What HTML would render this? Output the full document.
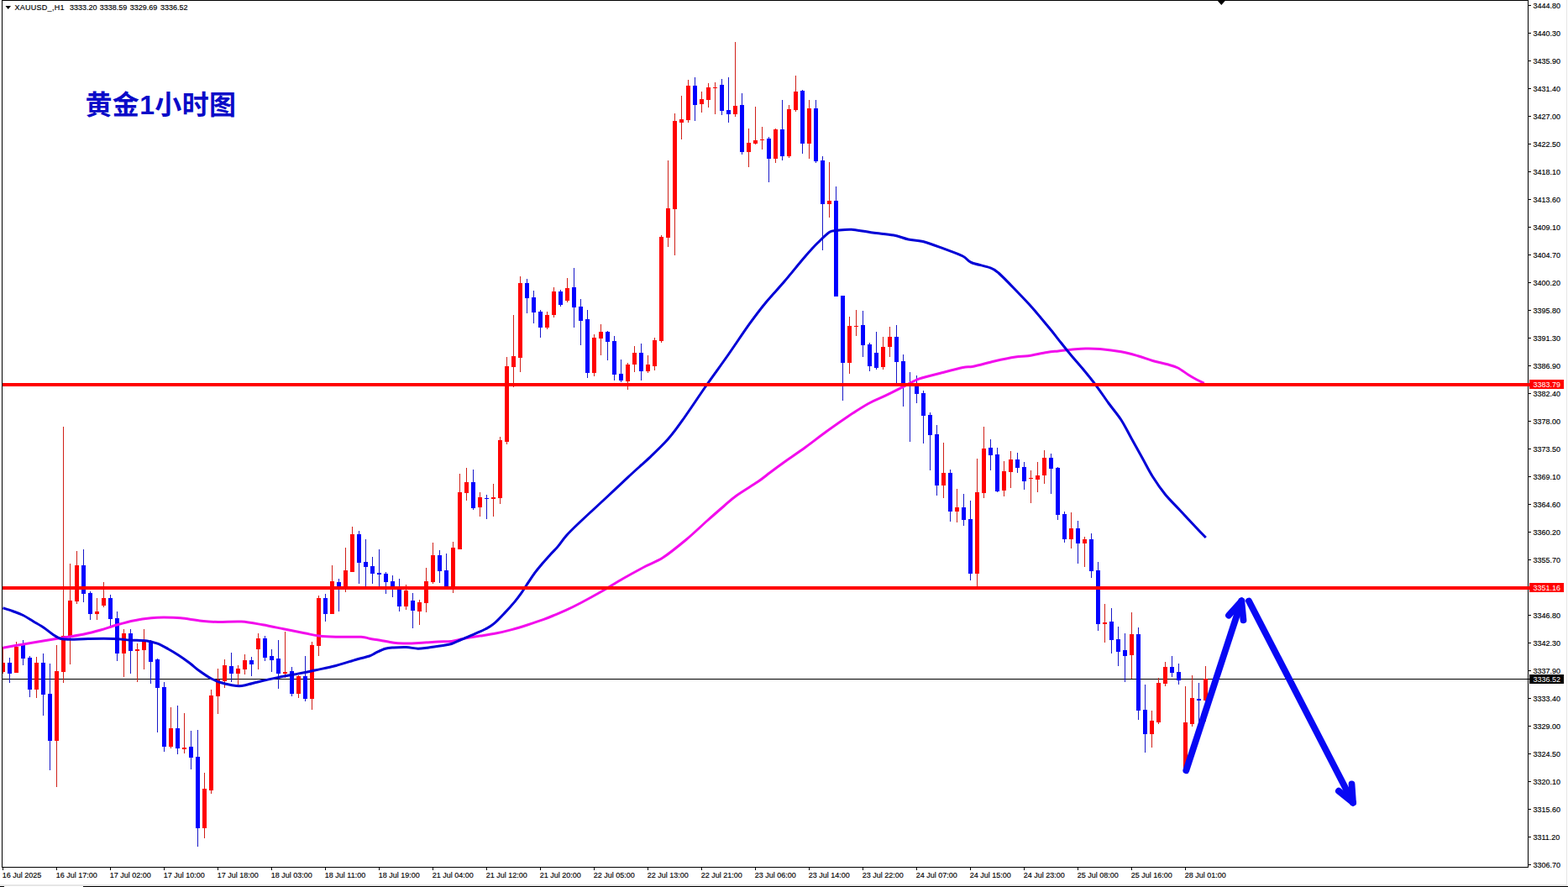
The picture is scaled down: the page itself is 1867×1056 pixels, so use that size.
<!DOCTYPE html>
<html><head><meta charset="utf-8"><title>XAUUSD H1</title>
<style>html,body{margin:0;padding:0;background:#fff;}body{width:1867px;height:1056px;overflow:hidden;position:relative;font-family:"Liberation Sans",sans-serif;}</style>
</head><body>
<svg width="1867" height="1056" viewBox="0 0 1867 1056" style="position:absolute;left:0;top:0">
<defs><clipPath id="cp"><rect x="3" y="1" width="1816" height="1031"/></clipPath></defs>
<g shape-rendering="crispEdges" fill="#000">
<rect x="2" y="0" width="1818" height="1"/>
<rect x="2" y="0" width="1" height="1033"/>
<rect x="1819" y="0" width="1" height="1033"/>
<rect x="2" y="1032" width="1818" height="1"/>
<rect x="1820" y="6" width="3" height="1"/>
<rect x="1820" y="39" width="3" height="1"/>
<rect x="1820" y="72" width="3" height="1"/>
<rect x="1820" y="105" width="3" height="1"/>
<rect x="1820" y="138" width="3" height="1"/>
<rect x="1820" y="171" width="3" height="1"/>
<rect x="1820" y="204" width="3" height="1"/>
<rect x="1820" y="237" width="3" height="1"/>
<rect x="1820" y="270" width="3" height="1"/>
<rect x="1820" y="303" width="3" height="1"/>
<rect x="1820" y="336" width="3" height="1"/>
<rect x="1820" y="369" width="3" height="1"/>
<rect x="1820" y="402" width="3" height="1"/>
<rect x="1820" y="435" width="3" height="1"/>
<rect x="1820" y="468" width="3" height="1"/>
<rect x="1820" y="501" width="3" height="1"/>
<rect x="1820" y="534" width="3" height="1"/>
<rect x="1820" y="567" width="3" height="1"/>
<rect x="1820" y="600" width="3" height="1"/>
<rect x="1820" y="633" width="3" height="1"/>
<rect x="1820" y="666" width="3" height="1"/>
<rect x="1820" y="699" width="3" height="1"/>
<rect x="1820" y="732" width="3" height="1"/>
<rect x="1820" y="765" width="3" height="1"/>
<rect x="1820" y="798" width="3" height="1"/>
<rect x="1820" y="831" width="3" height="1"/>
<rect x="1820" y="864" width="3" height="1"/>
<rect x="1820" y="897" width="3" height="1"/>
<rect x="1820" y="930" width="3" height="1"/>
<rect x="1820" y="963" width="3" height="1"/>
<rect x="1820" y="996" width="3" height="1"/>
<rect x="1820" y="1029" width="3" height="1"/>
<rect x="3" y="1033" width="1" height="3"/>
<rect x="67" y="1033" width="1" height="3"/>
<rect x="131" y="1033" width="1" height="3"/>
<rect x="195" y="1033" width="1" height="3"/>
<rect x="259" y="1033" width="1" height="3"/>
<rect x="323" y="1033" width="1" height="3"/>
<rect x="387" y="1033" width="1" height="3"/>
<rect x="451" y="1033" width="1" height="3"/>
<rect x="515" y="1033" width="1" height="3"/>
<rect x="579" y="1033" width="1" height="3"/>
<rect x="643" y="1033" width="1" height="3"/>
<rect x="707" y="1033" width="1" height="3"/>
<rect x="771" y="1033" width="1" height="3"/>
<rect x="835" y="1033" width="1" height="3"/>
<rect x="899" y="1033" width="1" height="3"/>
<rect x="963" y="1033" width="1" height="3"/>
<rect x="1027" y="1033" width="1" height="3"/>
<rect x="1091" y="1033" width="1" height="3"/>
<rect x="1155" y="1033" width="1" height="3"/>
<rect x="1219" y="1033" width="1" height="3"/>
<rect x="1283" y="1033" width="1" height="3"/>
<rect x="1347" y="1033" width="1" height="3"/>
<rect x="1411" y="1033" width="1" height="3"/>
<rect x="0" y="1055" width="5" height="1"/>
<rect x="99" y="1055" width="1768" height="1"/>
</g>
<g shape-rendering="crispEdges" fill="#e6e6e6"><rect x="1865" y="0" width="1" height="1054"/><rect x="0" y="1053" width="1866" height="2"/></g>
<path d="M1449 0 L1459.6 0 L1454.3 6 Z" fill="#000"/>
<rect x="3" y="808" width="1818" height="1" fill="#000" shape-rendering="crispEdges"/>
<g shape-rendering="crispEdges" clip-path="url(#cp)">
<rect x="3" y="770" width="1" height="32" fill="#d02018"/>
<rect x="1" y="789" width="5" height="11" fill="#ff0000"/>
<rect x="11" y="783" width="1" height="30" fill="#1818c8"/>
<rect x="9" y="789" width="5" height="13" fill="#0000ff"/>
<rect x="19" y="764" width="1" height="37" fill="#d02018"/>
<rect x="17" y="770" width="5" height="31" fill="#ff0000"/>
<rect x="27" y="762" width="1" height="30" fill="#1818c8"/>
<rect x="25" y="768" width="5" height="16" fill="#0000ff"/>
<rect x="35" y="781" width="1" height="49" fill="#1818c8"/>
<rect x="33" y="783" width="5" height="38" fill="#0000ff"/>
<rect x="43" y="782" width="1" height="49" fill="#d02018"/>
<rect x="41" y="789" width="5" height="32" fill="#ff0000"/>
<rect x="51" y="778" width="1" height="74" fill="#1818c8"/>
<rect x="49" y="789" width="5" height="38" fill="#0000ff"/>
<rect x="59" y="790" width="1" height="127" fill="#1818c8"/>
<rect x="57" y="826" width="5" height="56" fill="#0000ff"/>
<rect x="67" y="768" width="1" height="169" fill="#d02018"/>
<rect x="65" y="799" width="5" height="83" fill="#ff0000"/>
<rect x="75" y="508" width="1" height="305" fill="#d02018"/>
<rect x="73" y="757" width="5" height="43" fill="#ff0000"/>
<rect x="83" y="671" width="1" height="120" fill="#d02018"/>
<rect x="81" y="715" width="5" height="43" fill="#ff0000"/>
<rect x="91" y="656" width="1" height="63" fill="#d02018"/>
<rect x="89" y="673" width="5" height="43" fill="#ff0000"/>
<rect x="99" y="654" width="1" height="63" fill="#1818c8"/>
<rect x="97" y="673" width="5" height="34" fill="#0000ff"/>
<rect x="107" y="704" width="1" height="34" fill="#1818c8"/>
<rect x="105" y="706" width="5" height="25" fill="#0000ff"/>
<rect x="115" y="712" width="1" height="26" fill="#d02018"/>
<rect x="113" y="728" width="5" height="3" fill="#ff0000"/>
<rect x="123" y="693" width="1" height="30" fill="#d02018"/>
<rect x="121" y="712" width="5" height="9" fill="#ff0000"/>
<rect x="131" y="708" width="1" height="37" fill="#1818c8"/>
<rect x="129" y="712" width="5" height="25" fill="#0000ff"/>
<rect x="139" y="728" width="1" height="59" fill="#1818c8"/>
<rect x="137" y="736" width="5" height="42" fill="#0000ff"/>
<rect x="147" y="749" width="1" height="57" fill="#d02018"/>
<rect x="145" y="754" width="5" height="24" fill="#ff0000"/>
<rect x="155" y="749" width="1" height="53" fill="#1818c8"/>
<rect x="153" y="754" width="5" height="21" fill="#0000ff"/>
<rect x="163" y="766" width="1" height="46" fill="#d02018"/>
<rect x="161" y="773" width="5" height="2" fill="#ff0000"/>
<rect x="171" y="749" width="1" height="48" fill="#d02018"/>
<rect x="169" y="762" width="5" height="12" fill="#ff0000"/>
<rect x="179" y="762" width="1" height="52" fill="#1818c8"/>
<rect x="177" y="763" width="5" height="25" fill="#0000ff"/>
<rect x="187" y="784" width="1" height="88" fill="#1818c8"/>
<rect x="185" y="785" width="5" height="34" fill="#0000ff"/>
<rect x="195" y="812" width="1" height="83" fill="#1818c8"/>
<rect x="193" y="818" width="5" height="71" fill="#0000ff"/>
<rect x="203" y="842" width="1" height="49" fill="#d02018"/>
<rect x="201" y="867" width="5" height="22" fill="#ff0000"/>
<rect x="211" y="840" width="1" height="58" fill="#1818c8"/>
<rect x="209" y="867" width="5" height="24" fill="#0000ff"/>
<rect x="219" y="849" width="1" height="48" fill="#d02018"/>
<rect x="217" y="890" width="5" height="2" fill="#ff0000"/>
<rect x="227" y="870" width="1" height="46" fill="#1818c8"/>
<rect x="225" y="889" width="5" height="13" fill="#0000ff"/>
<rect x="235" y="869" width="1" height="139" fill="#1818c8"/>
<rect x="233" y="901" width="5" height="85" fill="#0000ff"/>
<rect x="243" y="920" width="1" height="78" fill="#d02018"/>
<rect x="241" y="939" width="5" height="47" fill="#ff0000"/>
<rect x="251" y="821" width="1" height="124" fill="#d02018"/>
<rect x="249" y="828" width="5" height="113" fill="#ff0000"/>
<rect x="259" y="796" width="1" height="54" fill="#d02018"/>
<rect x="257" y="809" width="5" height="20" fill="#ff0000"/>
<rect x="267" y="785" width="1" height="34" fill="#d02018"/>
<rect x="265" y="792" width="5" height="19" fill="#ff0000"/>
<rect x="275" y="777" width="1" height="35" fill="#1818c8"/>
<rect x="273" y="793" width="5" height="9" fill="#0000ff"/>
<rect x="283" y="792" width="1" height="23" fill="#d02018"/>
<rect x="281" y="796" width="5" height="6" fill="#ff0000"/>
<rect x="291" y="779" width="1" height="24" fill="#d02018"/>
<rect x="289" y="786" width="5" height="11" fill="#ff0000"/>
<rect x="299" y="782" width="1" height="23" fill="#1818c8"/>
<rect x="297" y="786" width="5" height="5" fill="#0000ff"/>
<rect x="307" y="754" width="1" height="43" fill="#d02018"/>
<rect x="305" y="760" width="5" height="13" fill="#ff0000"/>
<rect x="315" y="757" width="1" height="30" fill="#1818c8"/>
<rect x="313" y="760" width="5" height="23" fill="#0000ff"/>
<rect x="323" y="773" width="1" height="27" fill="#1818c8"/>
<rect x="321" y="781" width="5" height="5" fill="#0000ff"/>
<rect x="331" y="762" width="1" height="58" fill="#1818c8"/>
<rect x="329" y="784" width="5" height="18" fill="#0000ff"/>
<rect x="339" y="752" width="1" height="55" fill="#d02018"/>
<rect x="337" y="800" width="5" height="2" fill="#ff0000"/>
<rect x="347" y="794" width="1" height="35" fill="#1818c8"/>
<rect x="345" y="799" width="5" height="27" fill="#0000ff"/>
<rect x="355" y="804" width="1" height="27" fill="#d02018"/>
<rect x="353" y="805" width="5" height="21" fill="#ff0000"/>
<rect x="363" y="781" width="1" height="54" fill="#1818c8"/>
<rect x="361" y="805" width="5" height="27" fill="#0000ff"/>
<rect x="371" y="764" width="1" height="81" fill="#d02018"/>
<rect x="369" y="768" width="5" height="64" fill="#ff0000"/>
<rect x="379" y="709" width="1" height="72" fill="#d02018"/>
<rect x="377" y="712" width="5" height="57" fill="#ff0000"/>
<rect x="387" y="707" width="1" height="33" fill="#1818c8"/>
<rect x="385" y="712" width="5" height="19" fill="#0000ff"/>
<rect x="395" y="673" width="1" height="58" fill="#d02018"/>
<rect x="393" y="692" width="5" height="39" fill="#ff0000"/>
<rect x="403" y="689" width="1" height="39" fill="#1818c8"/>
<rect x="401" y="693" width="5" height="6" fill="#0000ff"/>
<rect x="411" y="652" width="1" height="53" fill="#d02018"/>
<rect x="409" y="679" width="5" height="20" fill="#ff0000"/>
<rect x="419" y="627" width="1" height="54" fill="#d02018"/>
<rect x="417" y="636" width="5" height="45" fill="#ff0000"/>
<rect x="427" y="632" width="1" height="63" fill="#1818c8"/>
<rect x="425" y="636" width="5" height="34" fill="#0000ff"/>
<rect x="435" y="642" width="1" height="56" fill="#1818c8"/>
<rect x="433" y="669" width="5" height="6" fill="#0000ff"/>
<rect x="443" y="663" width="1" height="32" fill="#1818c8"/>
<rect x="441" y="674" width="5" height="9" fill="#0000ff"/>
<rect x="451" y="654" width="1" height="45" fill="#1818c8"/>
<rect x="449" y="682" width="5" height="2" fill="#0000ff"/>
<rect x="459" y="681" width="1" height="26" fill="#1818c8"/>
<rect x="457" y="683" width="5" height="10" fill="#0000ff"/>
<rect x="467" y="685" width="1" height="26" fill="#1818c8"/>
<rect x="465" y="692" width="5" height="9" fill="#0000ff"/>
<rect x="475" y="689" width="1" height="39" fill="#1818c8"/>
<rect x="473" y="700" width="5" height="22" fill="#0000ff"/>
<rect x="483" y="696" width="1" height="30" fill="#d02018"/>
<rect x="481" y="703" width="5" height="19" fill="#ff0000"/>
<rect x="491" y="706" width="1" height="42" fill="#1818c8"/>
<rect x="489" y="715" width="5" height="12" fill="#0000ff"/>
<rect x="499" y="714" width="1" height="30" fill="#d02018"/>
<rect x="497" y="717" width="5" height="11" fill="#ff0000"/>
<rect x="507" y="676" width="1" height="53" fill="#d02018"/>
<rect x="505" y="692" width="5" height="26" fill="#ff0000"/>
<rect x="515" y="646" width="1" height="49" fill="#d02018"/>
<rect x="513" y="661" width="5" height="32" fill="#ff0000"/>
<rect x="523" y="655" width="1" height="39" fill="#1818c8"/>
<rect x="521" y="661" width="5" height="19" fill="#0000ff"/>
<rect x="531" y="659" width="1" height="42" fill="#1818c8"/>
<rect x="529" y="679" width="5" height="20" fill="#0000ff"/>
<rect x="539" y="645" width="1" height="61" fill="#d02018"/>
<rect x="537" y="652" width="5" height="47" fill="#ff0000"/>
<rect x="547" y="564" width="1" height="90" fill="#d02018"/>
<rect x="545" y="586" width="5" height="68" fill="#ff0000"/>
<rect x="555" y="557" width="1" height="39" fill="#d02018"/>
<rect x="553" y="574" width="5" height="13" fill="#ff0000"/>
<rect x="563" y="559" width="1" height="48" fill="#1818c8"/>
<rect x="561" y="574" width="5" height="31" fill="#0000ff"/>
<rect x="571" y="586" width="1" height="29" fill="#d02018"/>
<rect x="569" y="592" width="5" height="12" fill="#ff0000"/>
<rect x="579" y="589" width="1" height="29" fill="#1818c8"/>
<rect x="577" y="593" width="5" height="1" fill="#0000ff"/>
<rect x="587" y="576" width="1" height="39" fill="#d02018"/>
<rect x="585" y="592" width="5" height="2" fill="#ff0000"/>
<rect x="595" y="520" width="1" height="80" fill="#d02018"/>
<rect x="593" y="524" width="5" height="69" fill="#ff0000"/>
<rect x="603" y="425" width="1" height="104" fill="#d02018"/>
<rect x="601" y="436" width="5" height="90" fill="#ff0000"/>
<rect x="611" y="375" width="1" height="86" fill="#d02018"/>
<rect x="609" y="424" width="5" height="13" fill="#ff0000"/>
<rect x="619" y="329" width="1" height="114" fill="#d02018"/>
<rect x="617" y="337" width="5" height="89" fill="#ff0000"/>
<rect x="627" y="332" width="1" height="41" fill="#1818c8"/>
<rect x="625" y="337" width="5" height="18" fill="#0000ff"/>
<rect x="635" y="346" width="1" height="39" fill="#1818c8"/>
<rect x="633" y="354" width="5" height="18" fill="#0000ff"/>
<rect x="643" y="369" width="1" height="33" fill="#1818c8"/>
<rect x="641" y="371" width="5" height="19" fill="#0000ff"/>
<rect x="651" y="371" width="1" height="21" fill="#d02018"/>
<rect x="649" y="375" width="5" height="15" fill="#ff0000"/>
<rect x="659" y="342" width="1" height="36" fill="#d02018"/>
<rect x="657" y="347" width="5" height="28" fill="#ff0000"/>
<rect x="667" y="345" width="1" height="20" fill="#1818c8"/>
<rect x="665" y="347" width="5" height="16" fill="#0000ff"/>
<rect x="675" y="331" width="1" height="29" fill="#d02018"/>
<rect x="673" y="343" width="5" height="15" fill="#ff0000"/>
<rect x="683" y="319" width="1" height="71" fill="#1818c8"/>
<rect x="681" y="342" width="5" height="24" fill="#0000ff"/>
<rect x="691" y="356" width="1" height="55" fill="#1818c8"/>
<rect x="689" y="365" width="5" height="17" fill="#0000ff"/>
<rect x="699" y="369" width="1" height="81" fill="#1818c8"/>
<rect x="697" y="380" width="5" height="64" fill="#0000ff"/>
<rect x="707" y="398" width="1" height="50" fill="#d02018"/>
<rect x="705" y="402" width="5" height="42" fill="#ff0000"/>
<rect x="715" y="386" width="1" height="37" fill="#d02018"/>
<rect x="713" y="395" width="5" height="8" fill="#ff0000"/>
<rect x="723" y="394" width="1" height="35" fill="#1818c8"/>
<rect x="721" y="395" width="5" height="12" fill="#0000ff"/>
<rect x="731" y="400" width="1" height="53" fill="#1818c8"/>
<rect x="729" y="406" width="5" height="40" fill="#0000ff"/>
<rect x="739" y="428" width="1" height="27" fill="#1818c8"/>
<rect x="737" y="445" width="5" height="8" fill="#0000ff"/>
<rect x="747" y="432" width="1" height="32" fill="#d02018"/>
<rect x="745" y="434" width="5" height="20" fill="#ff0000"/>
<rect x="755" y="412" width="1" height="31" fill="#d02018"/>
<rect x="753" y="420" width="5" height="14" fill="#ff0000"/>
<rect x="763" y="409" width="1" height="44" fill="#1818c8"/>
<rect x="761" y="420" width="5" height="22" fill="#0000ff"/>
<rect x="771" y="423" width="1" height="21" fill="#d02018"/>
<rect x="769" y="434" width="5" height="8" fill="#ff0000"/>
<rect x="779" y="402" width="1" height="39" fill="#d02018"/>
<rect x="777" y="405" width="5" height="31" fill="#ff0000"/>
<rect x="787" y="280" width="1" height="128" fill="#d02018"/>
<rect x="785" y="282" width="5" height="124" fill="#ff0000"/>
<rect x="795" y="191" width="1" height="103" fill="#d02018"/>
<rect x="793" y="248" width="5" height="35" fill="#ff0000"/>
<rect x="803" y="135" width="1" height="169" fill="#d02018"/>
<rect x="801" y="144" width="5" height="105" fill="#ff0000"/>
<rect x="811" y="114" width="1" height="52" fill="#d02018"/>
<rect x="809" y="142" width="5" height="4" fill="#ff0000"/>
<rect x="819" y="95" width="1" height="51" fill="#d02018"/>
<rect x="817" y="102" width="5" height="41" fill="#ff0000"/>
<rect x="827" y="92" width="1" height="52" fill="#1818c8"/>
<rect x="825" y="102" width="5" height="23" fill="#0000ff"/>
<rect x="835" y="109" width="1" height="25" fill="#d02018"/>
<rect x="833" y="118" width="5" height="6" fill="#ff0000"/>
<rect x="843" y="99" width="1" height="29" fill="#d02018"/>
<rect x="841" y="104" width="5" height="15" fill="#ff0000"/>
<rect x="851" y="98" width="1" height="38" fill="#d02018"/>
<rect x="849" y="104" width="5" height="1" fill="#ff0000"/>
<rect x="859" y="94" width="1" height="43" fill="#1818c8"/>
<rect x="857" y="101" width="5" height="31" fill="#0000ff"/>
<rect x="867" y="92" width="1" height="54" fill="#1818c8"/>
<rect x="865" y="131" width="5" height="5" fill="#0000ff"/>
<rect x="875" y="50" width="1" height="89" fill="#d02018"/>
<rect x="873" y="126" width="5" height="10" fill="#ff0000"/>
<rect x="883" y="111" width="1" height="73" fill="#1818c8"/>
<rect x="881" y="125" width="5" height="56" fill="#0000ff"/>
<rect x="891" y="153" width="1" height="46" fill="#d02018"/>
<rect x="889" y="170" width="5" height="11" fill="#ff0000"/>
<rect x="899" y="127" width="1" height="45" fill="#d02018"/>
<rect x="897" y="167" width="5" height="4" fill="#ff0000"/>
<rect x="907" y="151" width="1" height="27" fill="#d02018"/>
<rect x="905" y="166" width="5" height="1" fill="#ff0000"/>
<rect x="915" y="163" width="1" height="54" fill="#1818c8"/>
<rect x="913" y="165" width="5" height="24" fill="#0000ff"/>
<rect x="923" y="153" width="1" height="41" fill="#d02018"/>
<rect x="921" y="154" width="5" height="35" fill="#ff0000"/>
<rect x="931" y="119" width="1" height="72" fill="#1818c8"/>
<rect x="929" y="154" width="5" height="32" fill="#0000ff"/>
<rect x="939" y="125" width="1" height="63" fill="#d02018"/>
<rect x="937" y="130" width="5" height="56" fill="#ff0000"/>
<rect x="947" y="90" width="1" height="43" fill="#d02018"/>
<rect x="945" y="109" width="5" height="22" fill="#ff0000"/>
<rect x="955" y="107" width="1" height="76" fill="#1818c8"/>
<rect x="953" y="108" width="5" height="63" fill="#0000ff"/>
<rect x="963" y="119" width="1" height="70" fill="#d02018"/>
<rect x="961" y="129" width="5" height="42" fill="#ff0000"/>
<rect x="971" y="119" width="1" height="75" fill="#1818c8"/>
<rect x="969" y="129" width="5" height="63" fill="#0000ff"/>
<rect x="979" y="186" width="1" height="112" fill="#1818c8"/>
<rect x="977" y="191" width="5" height="52" fill="#0000ff"/>
<rect x="987" y="193" width="1" height="66" fill="#d02018"/>
<rect x="985" y="239" width="5" height="4" fill="#ff0000"/>
<rect x="995" y="222" width="1" height="131" fill="#1818c8"/>
<rect x="993" y="239" width="5" height="114" fill="#0000ff"/>
<rect x="1003" y="352" width="1" height="125" fill="#1818c8"/>
<rect x="1001" y="352" width="5" height="80" fill="#0000ff"/>
<rect x="1011" y="377" width="1" height="68" fill="#d02018"/>
<rect x="1009" y="388" width="5" height="44" fill="#ff0000"/>
<rect x="1019" y="369" width="1" height="31" fill="#d02018"/>
<rect x="1017" y="388" width="5" height="1" fill="#ff0000"/>
<rect x="1027" y="370" width="1" height="55" fill="#1818c8"/>
<rect x="1025" y="387" width="5" height="24" fill="#0000ff"/>
<rect x="1035" y="408" width="1" height="34" fill="#1818c8"/>
<rect x="1033" y="410" width="5" height="26" fill="#0000ff"/>
<rect x="1043" y="395" width="1" height="45" fill="#1818c8"/>
<rect x="1041" y="420" width="5" height="18" fill="#0000ff"/>
<rect x="1051" y="401" width="1" height="39" fill="#d02018"/>
<rect x="1049" y="413" width="5" height="24" fill="#ff0000"/>
<rect x="1059" y="389" width="1" height="36" fill="#d02018"/>
<rect x="1057" y="401" width="5" height="12" fill="#ff0000"/>
<rect x="1067" y="387" width="1" height="71" fill="#1818c8"/>
<rect x="1065" y="401" width="5" height="30" fill="#0000ff"/>
<rect x="1075" y="422" width="1" height="62" fill="#1818c8"/>
<rect x="1073" y="430" width="5" height="29" fill="#0000ff"/>
<rect x="1083" y="443" width="1" height="83" fill="#1818c8"/>
<rect x="1081" y="458" width="5" height="2" fill="#0000ff"/>
<rect x="1091" y="447" width="1" height="33" fill="#1818c8"/>
<rect x="1089" y="458" width="5" height="11" fill="#0000ff"/>
<rect x="1099" y="465" width="1" height="63" fill="#1818c8"/>
<rect x="1097" y="468" width="5" height="27" fill="#0000ff"/>
<rect x="1107" y="491" width="1" height="69" fill="#1818c8"/>
<rect x="1105" y="494" width="5" height="24" fill="#0000ff"/>
<rect x="1115" y="506" width="1" height="84" fill="#1818c8"/>
<rect x="1113" y="517" width="5" height="61" fill="#0000ff"/>
<rect x="1123" y="527" width="1" height="66" fill="#d02018"/>
<rect x="1121" y="563" width="5" height="15" fill="#ff0000"/>
<rect x="1131" y="559" width="1" height="62" fill="#1818c8"/>
<rect x="1129" y="563" width="5" height="46" fill="#0000ff"/>
<rect x="1139" y="582" width="1" height="40" fill="#d02018"/>
<rect x="1137" y="604" width="5" height="5" fill="#ff0000"/>
<rect x="1147" y="588" width="1" height="38" fill="#1818c8"/>
<rect x="1145" y="604" width="5" height="15" fill="#0000ff"/>
<rect x="1155" y="596" width="1" height="95" fill="#1818c8"/>
<rect x="1153" y="618" width="5" height="65" fill="#0000ff"/>
<rect x="1163" y="546" width="1" height="152" fill="#d02018"/>
<rect x="1161" y="586" width="5" height="97" fill="#ff0000"/>
<rect x="1171" y="508" width="1" height="85" fill="#d02018"/>
<rect x="1169" y="534" width="5" height="53" fill="#ff0000"/>
<rect x="1179" y="523" width="1" height="37" fill="#1818c8"/>
<rect x="1177" y="533" width="5" height="9" fill="#0000ff"/>
<rect x="1187" y="533" width="1" height="53" fill="#1818c8"/>
<rect x="1185" y="541" width="5" height="44" fill="#0000ff"/>
<rect x="1195" y="549" width="1" height="42" fill="#d02018"/>
<rect x="1193" y="561" width="5" height="23" fill="#ff0000"/>
<rect x="1203" y="537" width="1" height="44" fill="#d02018"/>
<rect x="1201" y="547" width="5" height="15" fill="#ff0000"/>
<rect x="1211" y="539" width="1" height="24" fill="#1818c8"/>
<rect x="1209" y="547" width="5" height="10" fill="#0000ff"/>
<rect x="1219" y="550" width="1" height="33" fill="#1818c8"/>
<rect x="1217" y="556" width="5" height="17" fill="#0000ff"/>
<rect x="1227" y="560" width="1" height="39" fill="#d02018"/>
<rect x="1225" y="569" width="5" height="1" fill="#ff0000"/>
<rect x="1235" y="550" width="1" height="36" fill="#d02018"/>
<rect x="1233" y="566" width="5" height="5" fill="#ff0000"/>
<rect x="1243" y="536" width="1" height="40" fill="#d02018"/>
<rect x="1241" y="545" width="5" height="21" fill="#ff0000"/>
<rect x="1251" y="540" width="1" height="48" fill="#1818c8"/>
<rect x="1249" y="545" width="5" height="13" fill="#0000ff"/>
<rect x="1259" y="556" width="1" height="63" fill="#1818c8"/>
<rect x="1257" y="557" width="5" height="56" fill="#0000ff"/>
<rect x="1267" y="609" width="1" height="37" fill="#1818c8"/>
<rect x="1265" y="612" width="5" height="30" fill="#0000ff"/>
<rect x="1275" y="610" width="1" height="43" fill="#d02018"/>
<rect x="1273" y="629" width="5" height="13" fill="#ff0000"/>
<rect x="1283" y="620" width="1" height="51" fill="#1818c8"/>
<rect x="1281" y="629" width="5" height="18" fill="#0000ff"/>
<rect x="1291" y="639" width="1" height="36" fill="#d02018"/>
<rect x="1289" y="642" width="5" height="5" fill="#ff0000"/>
<rect x="1299" y="635" width="1" height="53" fill="#1818c8"/>
<rect x="1297" y="642" width="5" height="38" fill="#0000ff"/>
<rect x="1307" y="669" width="1" height="82" fill="#1818c8"/>
<rect x="1305" y="679" width="5" height="64" fill="#0000ff"/>
<rect x="1315" y="719" width="1" height="46" fill="#d02018"/>
<rect x="1313" y="741" width="5" height="2" fill="#ff0000"/>
<rect x="1323" y="724" width="1" height="54" fill="#1818c8"/>
<rect x="1321" y="740" width="5" height="22" fill="#0000ff"/>
<rect x="1331" y="746" width="1" height="47" fill="#1818c8"/>
<rect x="1329" y="761" width="5" height="15" fill="#0000ff"/>
<rect x="1339" y="754" width="1" height="58" fill="#1818c8"/>
<rect x="1337" y="774" width="5" height="7" fill="#0000ff"/>
<rect x="1347" y="729" width="1" height="79" fill="#d02018"/>
<rect x="1345" y="755" width="5" height="25" fill="#ff0000"/>
<rect x="1355" y="747" width="1" height="110" fill="#1818c8"/>
<rect x="1353" y="755" width="5" height="91" fill="#0000ff"/>
<rect x="1363" y="815" width="1" height="81" fill="#1818c8"/>
<rect x="1361" y="845" width="5" height="29" fill="#0000ff"/>
<rect x="1371" y="846" width="1" height="44" fill="#d02018"/>
<rect x="1369" y="858" width="5" height="16" fill="#ff0000"/>
<rect x="1379" y="807" width="1" height="55" fill="#d02018"/>
<rect x="1377" y="813" width="5" height="47" fill="#ff0000"/>
<rect x="1387" y="788" width="1" height="29" fill="#d02018"/>
<rect x="1385" y="794" width="5" height="20" fill="#ff0000"/>
<rect x="1395" y="781" width="1" height="25" fill="#1818c8"/>
<rect x="1393" y="794" width="5" height="7" fill="#0000ff"/>
<rect x="1403" y="790" width="1" height="25" fill="#1818c8"/>
<rect x="1401" y="800" width="5" height="10" fill="#0000ff"/>
<rect x="1411" y="817" width="1" height="102" fill="#d02018"/>
<rect x="1409" y="860" width="5" height="58" fill="#ff0000"/>
<rect x="1419" y="804" width="1" height="61" fill="#d02018"/>
<rect x="1417" y="831" width="5" height="31" fill="#ff0000"/>
<rect x="1427" y="813" width="1" height="48" fill="#1818c8"/>
<rect x="1425" y="832" width="5" height="2" fill="#0000ff"/>
<rect x="1435" y="793" width="1" height="66" fill="#d02018"/>
<rect x="1433" y="808" width="5" height="26" fill="#ff0000"/>
</g>
<path d="M3.5 771.2C7.1 770.6 17.2 768.8 25.0 767.5C32.8 766.2 41.7 764.6 50.0 763.2C58.3 761.9 66.7 760.6 75.0 759.2C83.3 757.9 92.5 756.5 100.0 755.0C107.5 753.5 113.3 751.9 120.0 750.0C126.7 748.1 133.3 745.6 140.0 743.8C146.7 741.9 153.3 740.1 160.0 738.8C166.7 737.4 174.2 736.4 180.0 735.8C185.8 735.1 189.2 735.0 195.0 735.0C200.8 735.0 207.5 735.0 215.0 735.8C222.5 736.5 232.5 738.5 240.0 739.2C247.5 740.0 252.1 740.4 260.0 740.5C267.9 740.6 278.8 739.5 287.5 740.0C296.2 740.5 304.2 742.3 312.5 743.8C320.8 745.2 329.2 747.1 337.5 748.8C345.8 750.4 355.4 752.4 362.5 753.8C369.6 755.1 373.8 756.2 380.0 757.0C386.2 757.8 391.7 758.0 400.0 758.2C408.3 758.5 423.3 757.9 430.0 758.2C436.7 758.6 436.2 759.6 440.0 760.3C443.8 761.0 447.3 761.3 452.5 762.2C457.7 763.1 465.0 764.9 471.3 765.5C477.6 766.1 484.9 765.9 490.1 765.9C495.3 765.9 497.5 765.6 502.7 765.3C507.9 765.0 515.7 764.3 521.5 764.0C527.3 763.7 532.5 764.0 537.7 763.4C542.9 762.8 547.1 761.3 552.8 760.3C558.4 759.2 565.3 758.1 571.6 757.1C577.9 756.1 584.1 755.2 590.4 754.0C596.7 752.8 602.9 751.3 609.2 749.6C615.5 747.9 621.7 746.0 628.0 744.0C634.3 742.0 641.6 739.6 646.8 737.7C652.0 735.8 654.8 734.6 659.3 732.7C663.8 730.8 668.5 728.9 674.0 726.4C679.5 723.9 684.8 721.3 692.0 717.5C699.2 713.7 708.7 708.5 717.0 703.8C725.3 699.0 733.7 693.5 742.0 688.8C750.3 684.0 759.1 679.2 767.0 675.0C774.9 670.8 781.2 669.2 789.5 663.8C797.8 658.3 808.2 649.8 817.0 642.5C825.8 635.2 834.5 626.7 842.0 620.0C849.5 613.3 856.2 607.5 862.0 602.5C867.8 597.5 870.3 594.8 877.0 590.0C883.7 585.2 895.3 578.3 902.0 573.8C908.7 569.2 911.7 566.5 917.0 562.5C922.3 558.5 927.0 555.0 934.0 550.0C941.0 545.0 950.7 538.5 959.0 532.5C967.3 526.5 975.7 519.8 984.0 513.8C992.3 507.7 1000.7 501.8 1009.0 496.2C1017.3 490.7 1026.5 484.7 1034.0 480.5C1041.5 476.3 1047.3 474.5 1054.0 471.2C1060.7 468.0 1067.3 464.6 1074.0 461.2C1080.7 457.9 1086.1 454.2 1094.0 451.2C1101.9 448.3 1112.8 446.0 1121.5 443.8C1130.2 441.5 1140.2 438.8 1146.5 437.5C1152.8 436.2 1152.8 437.5 1159.0 436.2C1165.2 435.0 1175.7 431.9 1184.0 430.0C1192.3 428.1 1202.3 426.0 1209.0 425.0C1215.7 424.0 1217.8 424.7 1224.0 423.8C1230.2 422.8 1240.5 420.5 1246.5 419.5C1252.5 418.5 1255.2 418.5 1260.0 418.0C1264.8 417.5 1269.6 416.8 1275.0 416.2C1280.4 415.8 1286.7 415.1 1292.5 415.0C1298.3 414.9 1302.9 414.9 1310.0 415.5C1317.1 416.1 1327.5 417.4 1335.0 418.8C1342.5 420.1 1348.8 422.0 1355.0 423.8C1361.2 425.5 1366.7 427.8 1372.5 429.5C1378.3 431.2 1385.0 432.3 1390.0 433.8C1395.0 435.2 1398.3 435.9 1402.5 438.0C1406.7 440.1 1411.2 443.9 1415.0 446.2C1418.8 448.6 1421.9 450.3 1425.0 452.0C1428.1 453.7 1432.3 455.5 1433.8 456.2" fill="none" stroke="#f20cec" stroke-width="3" stroke-linejoin="round" stroke-linecap="butt"/>
<path d="M3.5 723.8C5.4 724.4 11.0 726.0 15.0 727.5C19.0 729.0 23.3 730.4 27.5 732.5C31.7 734.6 35.8 737.5 40.0 740.0C44.2 742.5 48.8 745.0 52.5 747.5C56.2 750.0 59.2 752.8 62.5 755.0C65.8 757.2 68.8 759.5 72.5 760.5C76.2 761.5 79.6 761.2 85.0 761.2C90.4 761.2 96.7 760.6 105.0 760.5C113.3 760.4 126.7 760.2 135.0 760.5C143.3 760.8 148.3 761.6 155.0 762.0C161.7 762.4 169.6 762.3 175.0 763.0C180.4 763.7 183.3 764.7 187.5 766.2C191.7 767.8 195.8 770.2 200.0 772.5C204.2 774.8 208.3 777.3 212.5 780.0C216.7 782.7 220.8 785.6 225.0 788.8C229.2 791.9 233.3 795.7 237.5 798.8C241.7 801.8 245.8 804.7 250.0 807.0C254.2 809.3 258.3 811.1 262.5 812.5C266.7 813.9 271.2 814.8 275.0 815.5C278.8 816.2 281.7 816.8 285.0 816.8C288.3 816.7 290.4 816.0 295.0 815.0C299.6 814.0 306.2 812.0 312.5 810.5C318.8 809.0 326.2 807.5 332.5 806.2C338.8 805.0 342.9 804.4 350.0 803.0C357.1 801.6 366.7 799.8 375.0 798.0C383.3 796.2 391.7 794.7 400.0 792.5C408.3 790.3 418.3 786.9 425.0 785.0C431.7 783.1 436.2 782.3 440.0 781.0C443.8 779.7 444.4 778.7 447.5 777.2C450.6 775.7 455.2 773.2 458.8 772.2C462.4 771.2 464.6 771.2 468.8 770.9C473.0 770.6 479.1 770.3 483.9 770.5C488.7 770.7 493.2 772.1 497.6 772.2C502.0 772.3 505.2 771.5 510.2 770.9C515.2 770.3 523.1 769.1 527.7 768.4C532.3 767.7 534.2 767.6 537.7 766.5C541.2 765.4 544.4 763.5 549.0 761.5C553.6 759.5 560.5 756.7 565.3 754.6C570.1 752.5 574.0 751.0 577.8 749.0C581.6 747.0 583.9 746.1 587.9 742.7C591.9 739.4 597.5 733.3 601.7 728.9C605.9 724.5 609.8 720.1 612.9 716.4C616.0 712.6 618.2 709.6 620.5 706.4C622.8 703.2 624.2 700.8 626.7 697.0C629.2 693.2 632.4 688.1 635.5 683.8C638.6 679.5 642.2 675.3 645.5 671.3C648.8 667.3 652.4 663.5 655.5 660.0C658.6 656.5 661.1 654.4 664.3 650.6C667.5 646.9 670.3 642.2 674.5 637.5C678.7 632.8 681.2 630.4 689.5 622.5C697.8 614.6 714.9 599.0 724.5 590.0C734.1 581.0 738.7 576.5 747.0 568.8C755.3 561.0 766.6 551.2 774.5 543.8C782.4 536.2 788.2 530.8 794.5 523.8C800.8 516.7 804.1 512.3 812.0 501.2C819.9 490.2 832.8 470.6 842.0 457.5C851.2 444.4 858.7 434.4 867.0 422.5C875.3 410.6 884.5 396.7 892.0 386.2C899.5 375.8 905.0 368.5 912.0 360.0C919.0 351.5 926.2 344.2 934.0 335.0C941.8 325.8 952.3 312.7 959.0 305.0C965.7 297.3 969.2 293.5 974.0 288.8C978.8 284.0 984.0 278.6 987.8 276.2C991.5 273.9 992.1 275.0 996.5 274.5C1000.9 274.0 1006.9 272.8 1014.0 273.2C1021.1 273.7 1030.7 275.9 1039.0 277.0C1047.3 278.1 1056.9 278.7 1064.0 280.0C1071.1 281.3 1075.7 283.8 1081.5 285.0C1087.3 286.2 1091.9 285.6 1099.0 287.5C1106.1 289.4 1116.1 293.3 1124.0 296.2C1131.9 299.2 1141.1 302.3 1146.5 305.0C1151.9 307.7 1151.1 310.2 1156.5 312.5C1161.9 314.8 1173.6 316.7 1179.0 318.8C1184.4 320.8 1184.0 320.6 1189.0 325.0C1194.0 329.4 1202.3 338.1 1209.0 345.0C1215.7 351.9 1222.3 358.8 1229.0 366.2C1235.7 373.8 1243.8 383.8 1249.0 390.0C1254.2 396.2 1255.7 398.3 1260.0 403.8C1264.3 409.2 1270.0 416.5 1275.0 422.5C1280.0 428.5 1285.0 434.0 1290.0 440.0C1295.0 446.0 1300.0 452.1 1305.0 458.8C1310.0 465.4 1315.0 473.1 1320.0 480.0C1325.0 486.9 1330.4 492.9 1335.0 500.0C1339.6 507.1 1343.3 515.0 1347.5 522.5C1351.7 530.0 1355.8 537.5 1360.0 545.0C1364.2 552.5 1367.9 560.2 1372.5 567.5C1377.1 574.8 1382.1 582.1 1387.5 588.8C1392.9 595.4 1399.2 601.2 1405.0 607.5C1410.8 613.8 1417.4 620.8 1422.5 626.2C1427.6 631.7 1433.5 637.7 1435.8 640.0" fill="none" stroke="#0000d6" stroke-width="3" stroke-linejoin="round" stroke-linecap="butt"/>
<g shape-rendering="crispEdges">
<rect x="3" y="456" width="1818" height="4" fill="#ff0000"/>
<rect x="3" y="698" width="1818" height="4" fill="#ff0000"/>
<rect x="1821" y="452" width="41" height="11" fill="#ff0000"/>
<rect x="1821" y="694" width="41" height="11" fill="#ff0000"/>
<rect x="1821" y="803" width="41" height="11" fill="#000"/>
</g>
<g stroke="#0808f4" stroke-width="7.8" stroke-linecap="round" fill="none"><line x1="1412.3" y1="917.3" x2="1478.3" y2="715.5"/><line x1="1478.3" y1="715.5" x2="1480.5" y2="738.4"/><line x1="1478.3" y1="715.5" x2="1463.0" y2="732.7"/></g>
<g stroke="#0808f4" stroke-width="7.8" stroke-linecap="round" fill="none"><line x1="1487" y1="715.5" x2="1611" y2="955.5"/><line x1="1611" y1="955.5" x2="1593.9" y2="941.6"/><line x1="1611" y1="955.5" x2="1609.5" y2="933.5"/></g>
<text x="101.5" y="136" font-family="Liberation Sans, Noto Sans CJK SC, sans-serif" font-size="32" font-weight="bold" fill="#0a0ac8" text-anchor="start" textLength="179.5" lengthAdjust="spacing">黄金1小时图</text>
<g>
<text x="1825.4" y="9.6" font-family="Liberation Sans, sans-serif" font-size="9" fill="#000" stroke="#000" stroke-width="0.15" text-anchor="start">3444.80</text>
<text x="1825.4" y="42.6" font-family="Liberation Sans, sans-serif" font-size="9" fill="#000" stroke="#000" stroke-width="0.15" text-anchor="start">3440.30</text>
<text x="1825.4" y="75.6" font-family="Liberation Sans, sans-serif" font-size="9" fill="#000" stroke="#000" stroke-width="0.15" text-anchor="start">3435.90</text>
<text x="1825.4" y="108.6" font-family="Liberation Sans, sans-serif" font-size="9" fill="#000" stroke="#000" stroke-width="0.15" text-anchor="start">3431.40</text>
<text x="1825.4" y="141.6" font-family="Liberation Sans, sans-serif" font-size="9" fill="#000" stroke="#000" stroke-width="0.15" text-anchor="start">3427.00</text>
<text x="1825.4" y="174.6" font-family="Liberation Sans, sans-serif" font-size="9" fill="#000" stroke="#000" stroke-width="0.15" text-anchor="start">3422.50</text>
<text x="1825.4" y="207.6" font-family="Liberation Sans, sans-serif" font-size="9" fill="#000" stroke="#000" stroke-width="0.15" text-anchor="start">3418.10</text>
<text x="1825.4" y="240.6" font-family="Liberation Sans, sans-serif" font-size="9" fill="#000" stroke="#000" stroke-width="0.15" text-anchor="start">3413.60</text>
<text x="1825.4" y="273.6" font-family="Liberation Sans, sans-serif" font-size="9" fill="#000" stroke="#000" stroke-width="0.15" text-anchor="start">3409.10</text>
<text x="1825.4" y="306.6" font-family="Liberation Sans, sans-serif" font-size="9" fill="#000" stroke="#000" stroke-width="0.15" text-anchor="start">3404.70</text>
<text x="1825.4" y="339.6" font-family="Liberation Sans, sans-serif" font-size="9" fill="#000" stroke="#000" stroke-width="0.15" text-anchor="start">3400.20</text>
<text x="1825.4" y="372.6" font-family="Liberation Sans, sans-serif" font-size="9" fill="#000" stroke="#000" stroke-width="0.15" text-anchor="start">3395.80</text>
<text x="1825.4" y="405.6" font-family="Liberation Sans, sans-serif" font-size="9" fill="#000" stroke="#000" stroke-width="0.15" text-anchor="start">3391.30</text>
<text x="1825.4" y="438.6" font-family="Liberation Sans, sans-serif" font-size="9" fill="#000" stroke="#000" stroke-width="0.15" text-anchor="start">3386.90</text>
<text x="1825.4" y="471.6" font-family="Liberation Sans, sans-serif" font-size="9" fill="#000" stroke="#000" stroke-width="0.15" text-anchor="start">3382.40</text>
<text x="1825.4" y="504.6" font-family="Liberation Sans, sans-serif" font-size="9" fill="#000" stroke="#000" stroke-width="0.15" text-anchor="start">3378.00</text>
<text x="1825.4" y="537.6" font-family="Liberation Sans, sans-serif" font-size="9" fill="#000" stroke="#000" stroke-width="0.15" text-anchor="start">3373.50</text>
<text x="1825.4" y="570.6" font-family="Liberation Sans, sans-serif" font-size="9" fill="#000" stroke="#000" stroke-width="0.15" text-anchor="start">3369.10</text>
<text x="1825.4" y="603.6" font-family="Liberation Sans, sans-serif" font-size="9" fill="#000" stroke="#000" stroke-width="0.15" text-anchor="start">3364.60</text>
<text x="1825.4" y="636.6" font-family="Liberation Sans, sans-serif" font-size="9" fill="#000" stroke="#000" stroke-width="0.15" text-anchor="start">3360.20</text>
<text x="1825.4" y="669.6" font-family="Liberation Sans, sans-serif" font-size="9" fill="#000" stroke="#000" stroke-width="0.15" text-anchor="start">3355.70</text>
<text x="1825.4" y="735.6" font-family="Liberation Sans, sans-serif" font-size="9" fill="#000" stroke="#000" stroke-width="0.15" text-anchor="start">3346.80</text>
<text x="1825.4" y="768.6" font-family="Liberation Sans, sans-serif" font-size="9" fill="#000" stroke="#000" stroke-width="0.15" text-anchor="start">3342.30</text>
<text x="1825.4" y="801.6" font-family="Liberation Sans, sans-serif" font-size="9" fill="#000" stroke="#000" stroke-width="0.15" text-anchor="start">3337.90</text>
<text x="1825.4" y="834.6" font-family="Liberation Sans, sans-serif" font-size="9" fill="#000" stroke="#000" stroke-width="0.15" text-anchor="start">3333.40</text>
<text x="1825.4" y="867.6" font-family="Liberation Sans, sans-serif" font-size="9" fill="#000" stroke="#000" stroke-width="0.15" text-anchor="start">3329.00</text>
<text x="1825.4" y="900.6" font-family="Liberation Sans, sans-serif" font-size="9" fill="#000" stroke="#000" stroke-width="0.15" text-anchor="start">3324.50</text>
<text x="1825.4" y="933.6" font-family="Liberation Sans, sans-serif" font-size="9" fill="#000" stroke="#000" stroke-width="0.15" text-anchor="start">3320.10</text>
<text x="1825.4" y="966.6" font-family="Liberation Sans, sans-serif" font-size="9" fill="#000" stroke="#000" stroke-width="0.15" text-anchor="start">3315.60</text>
<text x="1825.4" y="999.6" font-family="Liberation Sans, sans-serif" font-size="9" fill="#000" stroke="#000" stroke-width="0.15" text-anchor="start">3311.20</text>
<text x="1825.4" y="1032.6" font-family="Liberation Sans, sans-serif" font-size="9" fill="#000" stroke="#000" stroke-width="0.15" text-anchor="start">3306.70</text>
</g>
<g shape-rendering="crispEdges">
<rect x="1821" y="452" width="41" height="11" fill="#ff0000"/>
<rect x="1821" y="694" width="41" height="11" fill="#ff0000"/>
<rect x="1821" y="803" width="41" height="11" fill="#000"/>
</g>
<text x="1825.4" y="460.7" font-family="Liberation Sans, sans-serif" font-size="9" fill="#fff" text-anchor="start">3383.79</text>
<text x="1825.4" y="702.7" font-family="Liberation Sans, sans-serif" font-size="9" fill="#fff" text-anchor="start">3351.16</text>
<text x="1825.4" y="811.7" font-family="Liberation Sans, sans-serif" font-size="9" fill="#fff" text-anchor="start">3336.52</text>
<text x="2.8" y="1044.9" font-family="Liberation Sans, sans-serif" font-size="9" fill="#000" stroke="#000" stroke-width="0.15" text-anchor="start">16 Jul 2025</text>
<text x="66.8" y="1044.9" font-family="Liberation Sans, sans-serif" font-size="9" fill="#000" stroke="#000" stroke-width="0.15" text-anchor="start">16 Jul 17:00</text>
<text x="130.8" y="1044.9" font-family="Liberation Sans, sans-serif" font-size="9" fill="#000" stroke="#000" stroke-width="0.15" text-anchor="start">17 Jul 02:00</text>
<text x="194.8" y="1044.9" font-family="Liberation Sans, sans-serif" font-size="9" fill="#000" stroke="#000" stroke-width="0.15" text-anchor="start">17 Jul 10:00</text>
<text x="258.8" y="1044.9" font-family="Liberation Sans, sans-serif" font-size="9" fill="#000" stroke="#000" stroke-width="0.15" text-anchor="start">17 Jul 18:00</text>
<text x="322.8" y="1044.9" font-family="Liberation Sans, sans-serif" font-size="9" fill="#000" stroke="#000" stroke-width="0.15" text-anchor="start">18 Jul 03:00</text>
<text x="386.8" y="1044.9" font-family="Liberation Sans, sans-serif" font-size="9" fill="#000" stroke="#000" stroke-width="0.15" text-anchor="start">18 Jul 11:00</text>
<text x="450.8" y="1044.9" font-family="Liberation Sans, sans-serif" font-size="9" fill="#000" stroke="#000" stroke-width="0.15" text-anchor="start">18 Jul 19:00</text>
<text x="514.8" y="1044.9" font-family="Liberation Sans, sans-serif" font-size="9" fill="#000" stroke="#000" stroke-width="0.15" text-anchor="start">21 Jul 04:00</text>
<text x="578.8" y="1044.9" font-family="Liberation Sans, sans-serif" font-size="9" fill="#000" stroke="#000" stroke-width="0.15" text-anchor="start">21 Jul 12:00</text>
<text x="642.8" y="1044.9" font-family="Liberation Sans, sans-serif" font-size="9" fill="#000" stroke="#000" stroke-width="0.15" text-anchor="start">21 Jul 20:00</text>
<text x="706.8" y="1044.9" font-family="Liberation Sans, sans-serif" font-size="9" fill="#000" stroke="#000" stroke-width="0.15" text-anchor="start">22 Jul 05:00</text>
<text x="770.8" y="1044.9" font-family="Liberation Sans, sans-serif" font-size="9" fill="#000" stroke="#000" stroke-width="0.15" text-anchor="start">22 Jul 13:00</text>
<text x="834.8" y="1044.9" font-family="Liberation Sans, sans-serif" font-size="9" fill="#000" stroke="#000" stroke-width="0.15" text-anchor="start">22 Jul 21:00</text>
<text x="898.8" y="1044.9" font-family="Liberation Sans, sans-serif" font-size="9" fill="#000" stroke="#000" stroke-width="0.15" text-anchor="start">23 Jul 06:00</text>
<text x="962.8" y="1044.9" font-family="Liberation Sans, sans-serif" font-size="9" fill="#000" stroke="#000" stroke-width="0.15" text-anchor="start">23 Jul 14:00</text>
<text x="1026.8" y="1044.9" font-family="Liberation Sans, sans-serif" font-size="9" fill="#000" stroke="#000" stroke-width="0.15" text-anchor="start">23 Jul 22:00</text>
<text x="1090.8" y="1044.9" font-family="Liberation Sans, sans-serif" font-size="9" fill="#000" stroke="#000" stroke-width="0.15" text-anchor="start">24 Jul 07:00</text>
<text x="1154.8" y="1044.9" font-family="Liberation Sans, sans-serif" font-size="9" fill="#000" stroke="#000" stroke-width="0.15" text-anchor="start">24 Jul 15:00</text>
<text x="1218.8" y="1044.9" font-family="Liberation Sans, sans-serif" font-size="9" fill="#000" stroke="#000" stroke-width="0.15" text-anchor="start">24 Jul 23:00</text>
<text x="1282.8" y="1044.9" font-family="Liberation Sans, sans-serif" font-size="9" fill="#000" stroke="#000" stroke-width="0.15" text-anchor="start">25 Jul 08:00</text>
<text x="1346.8" y="1044.9" font-family="Liberation Sans, sans-serif" font-size="9" fill="#000" stroke="#000" stroke-width="0.15" text-anchor="start">25 Jul 16:00</text>
<text x="1410.8" y="1044.9" font-family="Liberation Sans, sans-serif" font-size="9" fill="#000" stroke="#000" stroke-width="0.15" text-anchor="start">28 Jul 01:00</text>
<path d="M6.5 7 L13 7 L9.75 11 Z" fill="#000"/>
<text x="17.6" y="11.7" font-family="Liberation Sans, sans-serif" font-size="9" fill="#000" stroke="#000" stroke-width="0.15" textLength="58.8" lengthAdjust="spacing">XAUUSD_,H1</text>
<text x="83.0" y="11.7" font-family="Liberation Sans, sans-serif" font-size="9" fill="#000" stroke="#000" stroke-width="0.15" text-anchor="start">3333.20</text>
<text x="118.7" y="11.7" font-family="Liberation Sans, sans-serif" font-size="9" fill="#000" stroke="#000" stroke-width="0.15" text-anchor="start">3338.59</text>
<text x="154.79999999999998" y="11.7" font-family="Liberation Sans, sans-serif" font-size="9" fill="#000" stroke="#000" stroke-width="0.15" text-anchor="start">3329.69</text>
<text x="191.1" y="11.7" font-family="Liberation Sans, sans-serif" font-size="9" fill="#000" stroke="#000" stroke-width="0.15" text-anchor="start">3336.52</text>
</svg>
</body></html>
